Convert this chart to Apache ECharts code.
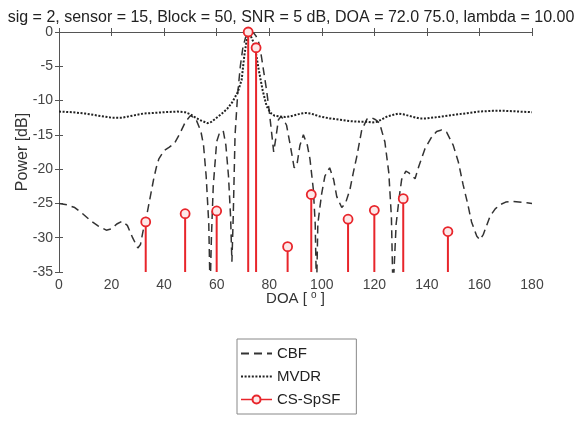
<!DOCTYPE html>
<html>
<head>
<meta charset="utf-8">
<script src="https://cdn.jsdelivr.net/npm/echarts@6/dist/echarts.min.js"></script>
<style>
  html, body { margin: 0; padding: 0; background: #fff; }
  #main { width: 582px; height: 422px; }
</style>
</head>
<body>
<div id="main"></div>
<script>
const titleText = 'sig = 2, sensor = 15, Block = 50, SNR = 5 dB, DOA = 72.0 75.0, lambda = 10.00'
const xTicks = [0, 20, 40, 60, 80, 100, 120, 140, 160, 180]
const yTicks = [0, -5, -10, -15, -20, -25, -30, -35]

// CBF spectrum [DOA, dB]
const cbfDoa = [0, 3, 6, 9, 12, 15, 18, 20, 22, 24, 26, 28, 30, 31, 32, 33, 34, 35, 36, 37, 38, 40, 42, 44, 46, 48, 50, 52, 54, 55, 56, 57, 57.5, 58, 58.7, 60, 61, 62.5, 63.5, 64.5, 65.3, 65.8, 66.3, 67, 68, 69, 70, 71, 72, 73, 74, 75, 76, 77, 78, 79, 80, 81, 81.7, 82.5, 83.5, 84.5, 85.5, 86.6, 88, 89.5, 90.5, 91.7, 93, 94.5, 95.5, 96.8, 97.5, 98, 98.5, 99.3, 100, 101.2, 103, 104.5, 105.7, 107.6, 109, 110.7, 112, 113.3, 115.2, 117.2, 119, 120.5, 122, 124, 125.5, 126.5, 127.1, 127.7, 128.3, 129.5, 130.4, 132, 133, 135.5, 137, 139.3, 141.5, 143.7, 145.6, 147.5, 150, 152, 153.8, 155.5, 157, 159, 160.2, 161.5, 164, 166, 167.8, 170, 172, 175, 178, 180]
const cbfDb = [-25, -25.2, -25.6, -26.5, -27.5, -28.3, -28.9, -28.7, -28, -27.6, -28.2, -30, -31.5, -31, -29, -27.5, -25.5, -23.5, -21.5, -19.8, -18.5, -17.3, -16.8, -16.2, -14.8, -13.2, -12.2, -12.6, -14.5, -16.5, -21, -28, -38, -30, -22.5, -16, -14.8, -14.4, -16.5, -21, -27, -33.5, -27, -15, -9, -5, -2.2, -0.8, -0.2, -0.2, -0.1, -0.6, -1.5, -3.5, -6, -8.5, -11.5, -15, -17.5, -15.5, -12.8, -12.3, -12.8, -13.6, -16.5, -19.8, -19.5, -16.5, -15, -16.5, -18.5, -23, -28, -38, -28, -25.5, -23.5, -21, -19.8, -21.5, -24, -25.6, -25, -23, -20.5, -18.2, -14.3, -12.7, -12.5, -12.8, -13.3, -16, -20.5, -27, -38, -38, -28, -24, -21.5, -20.3, -20.5, -21.4, -19.5, -17, -15.5, -14.5, -14.3, -14.6, -16.5, -19, -22.3, -25, -27.7, -29.8, -30.3, -29.5, -26.9, -25.8, -25.2, -24.8, -24.7, -24.8, -24.9, -25]

// MVDR spectrum [DOA, dB]
const mvdrDoa = [0, 5, 10, 15, 20, 24, 28, 32, 36, 40, 45, 48, 50, 52, 54, 56.5, 58, 60, 62, 64, 66, 68, 69.5, 70.5, 71.3, 72, 73, 74, 75, 76, 77.5, 79, 80.5, 82, 84, 86, 88, 90, 92, 94, 96, 99, 103, 107, 111, 115, 117.5, 119, 121, 123, 125, 127, 129, 131, 134, 137, 140, 144, 148, 152, 156, 160, 165, 170, 175, 180]
const mvdrDb = [-11.6, -11.7, -11.9, -12.2, -12.5, -12.5, -12.2, -11.9, -11.8, -11.7, -11.6, -11.7, -12, -12.5, -12.9, -13.3, -13.1, -12.5, -11.9, -11.2, -10.2, -8.8, -7, -3.5, -1.5, -0.3, -0.6, -1.5, -3.2, -5.5, -8.5, -10.8, -11.8, -12.2, -12.3, -12.4, -12.3, -12.1, -11.9, -11.8, -11.9, -12.3, -12.6, -12.8, -13, -13.1, -13.1, -13.2, -13.1, -12.7, -12.3, -12.1, -11.9, -12, -12.3, -12.6, -12.6, -12.4, -12.2, -12, -11.8, -11.6, -11.5, -11.5, -11.6, -11.7]

// CS-SpSF stems
const csDoa = [33, 48, 60, 72, 75, 87, 96, 110, 120, 131, 148]
const csDb = [-27.7, -26.5, -26.1, 0, -2.3, -31.3, -23.7, -27.3, -26.0, -24.3, -29.1]

const stemBase = -35
const red = '#e8252b'
const axisColor = '#555'

const zip = (xs, ys) => xs.map((x, i) => [x, ys[i]])

function initChart(dom) {
  const chart = echarts.init(dom, null, {
    width: 582,
    height: 422,
    devicePixelRatio: 1
  });

  const xAxisBase = {
    type: 'value',
    min: xTicks[0],
    max: xTicks[xTicks.length - 1],
    interval: 20,
    axisLine: { show: true, lineStyle: { color: axisColor, width: 1 } },
    axisTick: { show: true, inside: true, length: 4, lineStyle: { color: axisColor } },
    splitLine: { show: false }
  }
  const yAxisBase = {
    type: 'value',
    min: yTicks[yTicks.length - 1],
    max: yTicks[0],
    interval: 5,
    axisLine: { show: true, lineStyle: { color: axisColor, width: 1 } },
    axisTick: { show: true, inside: true, length: 4, lineStyle: { color: axisColor } },
    splitLine: { show: false }
  }

  var option = {
    animation: false,
    backgroundColor: '#fff',
    textStyle: { fontFamily: 'Liberation Sans, Arial, sans-serif' },
    title: {
      text: titleText,
      left: 'center',
      top: 5,
      textStyle: { fontSize: 16, fontWeight: 'normal', color: '#222' }
    },
    grid: { left: 59, right: 50, top: 32, bottom: 150, outerBoundsMode: 'none' },
    xAxis: [Object.assign({}, xAxisBase, {
      position: 'bottom',
      name: 'DOA [ {sup|o} ]',
      nameLocation: 'middle',
      nameGap: 18,
      nameMoveOverlap: false,
      nameTextStyle: {
        fontSize: 15, color: '#333',
        rich: { sup: { fontSize: 10, verticalAlign: 'top', padding: [0, 0, 8, 0], color: '#333' } }
      },
      axisLabel: { show: true, fontSize: 14, color: '#444', margin: 6 }
    }), Object.assign({}, xAxisBase, {
      position: 'top',
      axisLabel: { show: false }
    })],
    yAxis: [Object.assign({}, yAxisBase, {
      position: 'left',
      name: 'Power [dB]',
      nameLocation: 'middle',
      nameGap: 28,
      nameMoveOverlap: false,
      nameRotate: 90,
      nameTextStyle: { fontSize: 16, color: '#333' },
      axisLabel: { show: true, fontSize: 14, color: '#444', margin: 6 }
    }), Object.assign({}, yAxisBase, {
      position: 'right',
      axisLabel: { show: false }
    })],
    legend: {
      orient: 'vertical',
      left: 237,
      top: 339,
      padding: [6, 16, 6, 3],
      itemGap: 6,
      itemWidth: 31,
      itemHeight: 10,
      borderColor: '#888',
      borderWidth: 1,
      textStyle: { fontSize: 15, color: '#222', lineHeight: 17 },
      data: [
        { name: 'CBF', itemStyle: { opacity: 0 } },
        { name: 'MVDR', itemStyle: { opacity: 0 } },
        { name: 'CS-SpSF', lineStyle: { color: red, width: 1.5, opacity: 1, type: 'solid' } }
      ]
    },
    series: [{
      name: 'CBF',
      type: 'line',
      data: zip(cbfDoa, cbfDb),
      symbol: 'none',
      clip: true,
      lineStyle: { color: '#333', width: 1.5, type: [8, 5] },
      itemStyle: { color: '#333' },
      z: 3
    }, {
      name: 'MVDR',
      type: 'line',
      data: zip(mvdrDoa, mvdrDb),
      symbol: 'none',
      clip: true,
      lineStyle: { color: '#222', width: 2, type: [2, 1.6] },
      itemStyle: { color: '#222' },
      z: 3
    }, {
      name: 'stems',
      type: 'custom',
      data: zip(csDoa, csDb),
      renderItem: function (params, api) {
        const top = api.coord([api.value(0), api.value(1)]);
        const bottom = api.coord([api.value(0), stemBase]);
        return {
          type: 'line',
          shape: { x1: top[0], y1: top[1], x2: bottom[0], y2: bottom[1] },
          style: { stroke: red, lineWidth: 2 }
        };
      },
      z: 4
    }, {
      name: 'CS-SpSF',
      type: 'line',
      data: zip(csDoa, csDb),
      symbol: 'circle',
      symbolSize: 9,
      showAllSymbol: true,
      lineStyle: { width: 0, opacity: 0 },
      itemStyle: { color: '#fde8e8', borderColor: red, borderWidth: 1.8 },
      z: 5
    }]
  };

  chart.setOption(option);
  return chart;
}

initChart(document.getElementById('main'))
</script>
</body>
</html>
